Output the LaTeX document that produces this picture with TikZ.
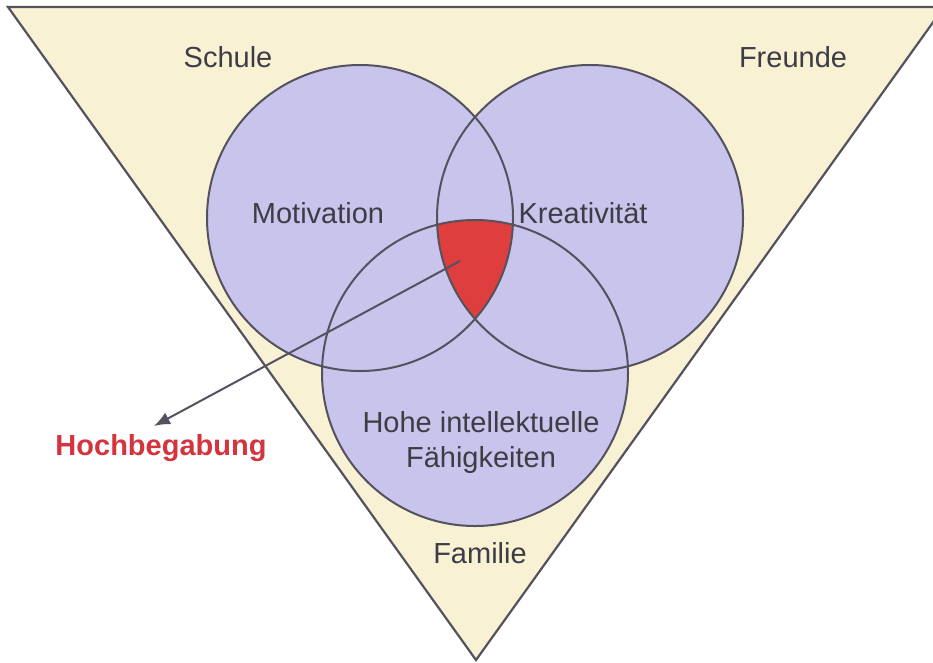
\documentclass[tikz,border=0pt]{standalone}
\usepackage{fontspec}
\setmainfont{Liberation Sans}
\usetikzlibrary{arrows.meta}
\definecolor{cream}{RGB}{249,241,212}
\definecolor{lav}{RGB}{201,196,236}
\definecolor{redfill}{RGB}{222,62,62}
\definecolor{edge}{RGB}{85,82,95}
\definecolor{txt}{RGB}{62,60,68}
\definecolor{hbred}{RGB}{212,52,62}
\tikzset{
  outline/.style={draw=edge, line width=2pt},
  lbl/.style={text=txt, font=\fontsize{29}{34}\selectfont, inner sep=0pt, align=center},
}
\begin{document}
\begin{tikzpicture}[x=1pt,y=-1pt]
\useasboundingbox (0,0) rectangle (933,662);
\fill[white] (0,0) rectangle (933,662);
% triangle
\coordinate (tl) at (8,7);
\coordinate (tr) at (944,7);
\coordinate (ap) at (476,660);
\filldraw[fill=cream, draw=edge, line width=2.2pt, line join=miter] (tl) -- (tr) -- (ap) -- cycle;
% circles
\coordinate (cl) at (360,218);
\coordinate (cr) at (590,218);
\coordinate (cb) at (475,373);
\fill[lav] (cl) circle[radius=153];
\fill[lav] (cr) circle[radius=153];
\fill[lav] (cb) circle[radius=153];
\begin{scope}
  \clip (cl) circle[radius=153];
  \clip (cr) circle[radius=153];
  \fill[redfill] (cb) circle[radius=153];
\end{scope}
\draw[outline] (cl) circle[radius=153];
\draw[outline] (cr) circle[radius=153];
\draw[outline] (cb) circle[radius=153];
% labels
\node[lbl] (schule) at (228,57) {Schule};
\node[lbl] (freunde) at (793,57) {Freunde};
\node[lbl] (motiv) at (318,213) {Motivation};
\node[lbl] (kreat) at (583,213) {Kreativität};
\node[lbl] (hohe) at (481,442) {Hohe intellektuelle\\[1pt]Fähigkeiten};
\node[lbl] (familie) at (480,553) {Familie};
\node[text=hbred, font=\fontsize{29}{34}\selectfont\bfseries, inner sep=0pt] (hb) at (161,448) {Hochbegabung};
% arrow
\coordinate (as) at (460,261);
\coordinate (at) at (154,426);
\draw[draw=edge, line width=2pt, -{Latex[length=16pt,width=13pt]}] (as) -- (at);
\end{tikzpicture}
\end{document}
